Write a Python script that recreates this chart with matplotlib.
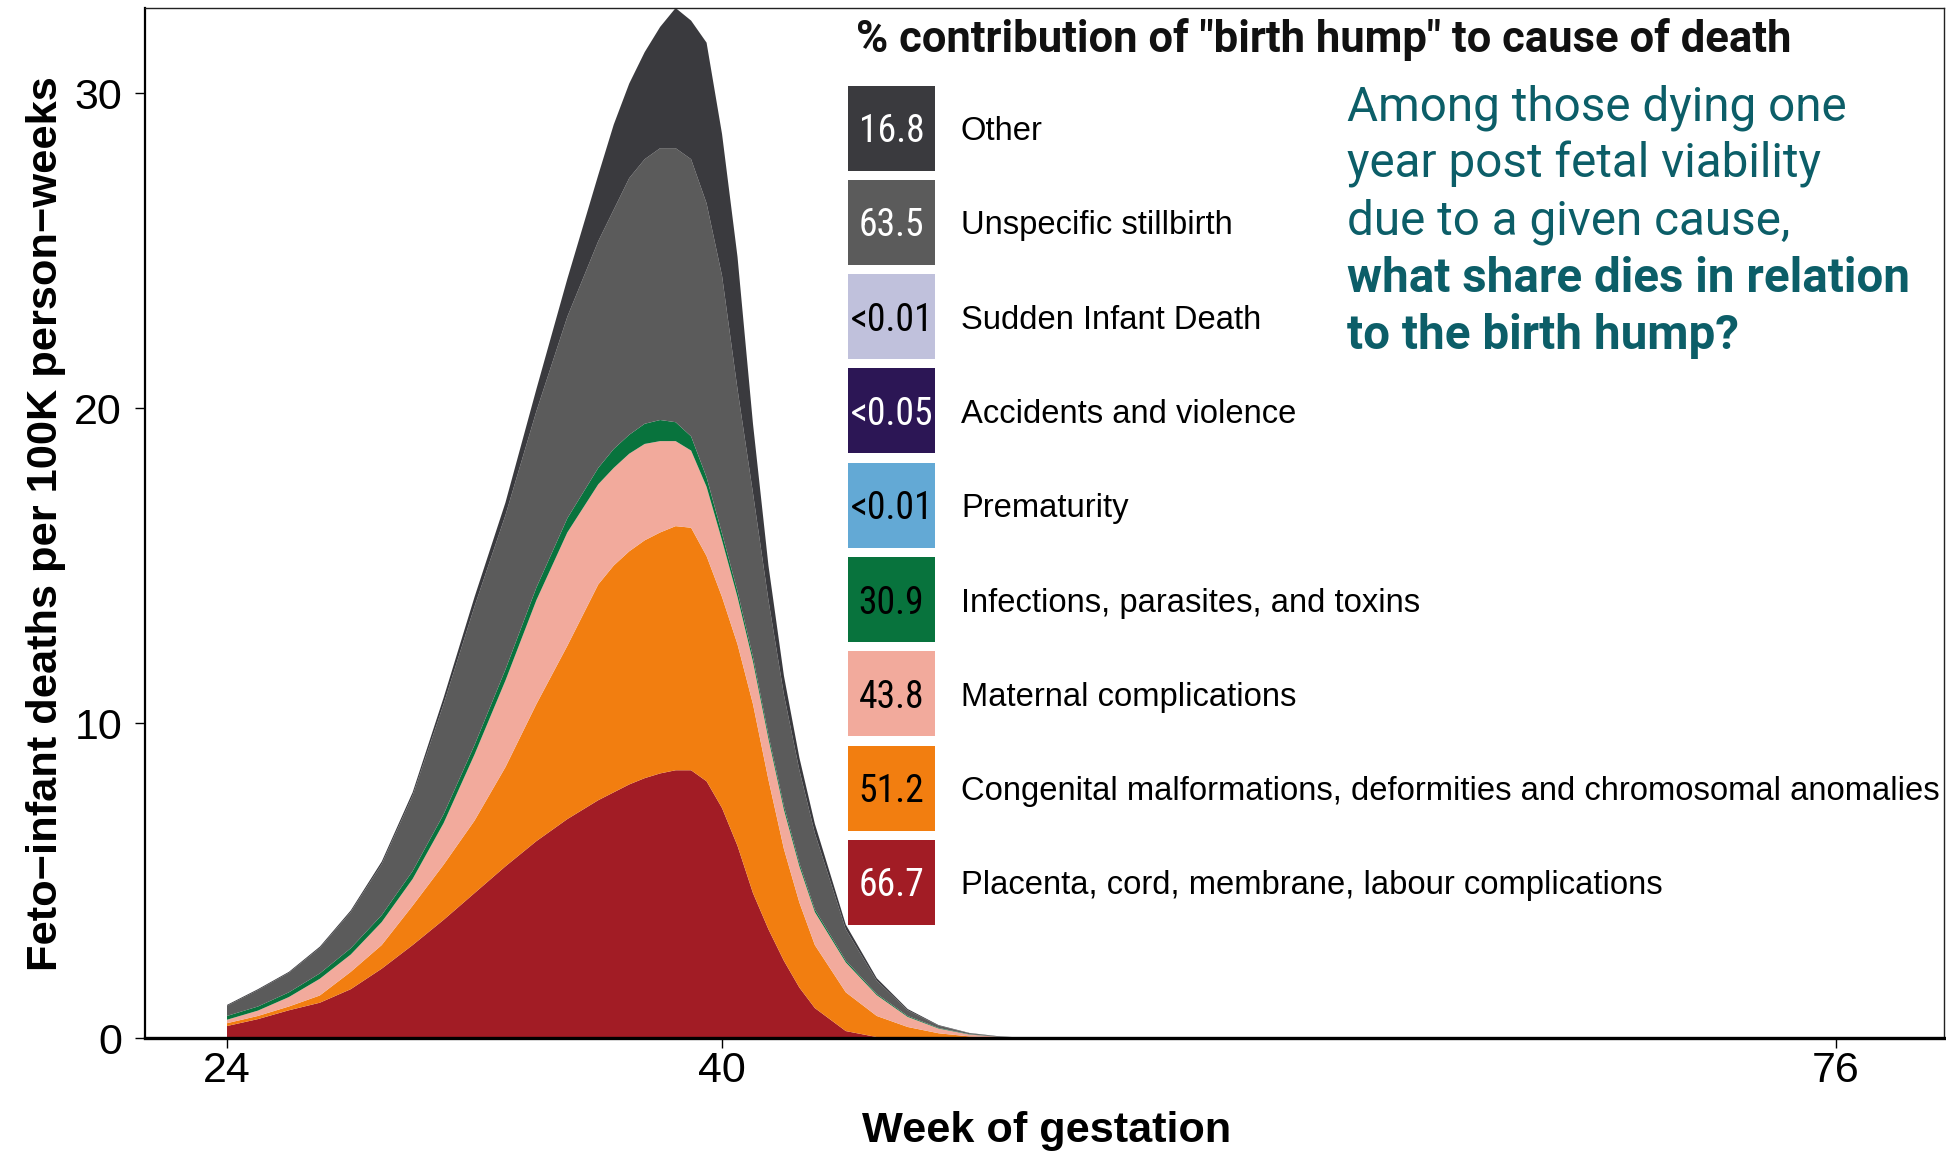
import matplotlib
matplotlib.use("Agg")
import matplotlib.pyplot as plt
from matplotlib.patches import Rectangle
from matplotlib import font_manager

# ---------------- data ----------------
weeks = [24, 25, 26, 27, 28, 29, 30, 31, 32, 33, 34, 35, 36, 36.5, 37, 37.5, 38, 38.5,
         39, 39.5, 40, 40.5, 41, 41.5, 42, 42.5, 43, 44, 45, 46, 47, 48, 49, 50, 76]

placenta = [0.38, 0.60, 0.88, 1.12, 1.55, 2.20, 2.95, 3.75, 4.60, 5.45, 6.25, 6.95, 7.55, 7.80,
            8.05, 8.25, 8.40, 8.50, 8.50, 8.15, 7.30, 6.10, 4.60, 3.45, 2.45, 1.60, 0.95, 0.22,
            0.03, 0, 0, 0, 0, 0, 0]
congenital = [0.09, 0.10, 0.12, 0.23, 0.55, 0.75, 1.25, 1.75, 2.30, 3.15, 4.35, 5.50, 6.85, 7.20,
              7.40, 7.55, 7.65, 7.75, 7.70, 7.15, 6.70, 6.40, 6.00, 4.75, 3.55, 2.70, 2.00, 1.23,
              0.67, 0.35, 0.15, 0.05, 0.01, 0, 0]
maternal = [0.11, 0.17, 0.30, 0.53, 0.55, 0.73, 0.85, 1.32, 2.10, 2.75, 3.30, 3.60, 3.18, 3.10,
            3.10, 3.06, 2.90, 2.70, 2.45, 2.20, 1.80, 1.50, 1.35, 1.30, 1.25, 1.15, 1.05, 0.95,
            0.66, 0.32, 0.15, 0.06, 0.02, 0, 0]
infections = [0.12, 0.13, 0.15, 0.17, 0.20, 0.22, 0.25, 0.28, 0.30, 0.35, 0.40, 0.45, 0.52, 0.60,
              0.60, 0.64, 0.67, 0.60, 0.45, 0.30, 0.22, 0.18, 0.15, 0.13, 0.12, 0.10, 0.08, 0.06,
              0.04, 0.03, 0.02, 0.01, 0, 0, 0]
prematurity = [0] * 35
accidents = [0] * 35
sudden_infant = [0] * 35
unspecific = [0.32, 0.52, 0.62, 0.81, 1.15, 1.62, 2.40, 3.50, 4.40, 4.90, 5.60, 6.40, 7.20, 7.60,
              8.15, 8.40, 8.63, 8.70, 8.80, 8.70, 8.18, 6.42, 5.20, 4.27, 3.53, 2.95, 2.42, 0.99,
              0.42, 0.18, 0.07, 0.03, 0.01, 0, 0]
other = [0.03, 0.03, 0.03, 0.04, 0.05, 0.08, 0.10, 0.20, 0.30, 0.40, 0.70, 1.20, 2.10, 2.70,
         3.00, 3.40, 3.85, 4.45, 4.40, 5.10, 4.50, 4.20, 2.20, 1.10, 0.60, 0.40, 0.30, 0.15,
         0.08, 0.04, 0.02, 0.01, 0.01, 0, 0]

# stacking order: bottom -> top
cause_labels = ["Placenta, cord, membrane, labour complications",
                "Congenital malformations, deformities and chromosomal anomalies",
                "Maternal complications",
                "Infections, parasites, and toxins",
                "Prematurity",
                "Accidents and violence",
                "Sudden Infant Death",
                "Unspecific stillbirth",
                "Other"]
cause_colors = ["#a21c25", "#f27e10", "#f2aa9c", "#08733d", "#63a9d5",
                "#2c1655", "#c0c1dc", "#5b5b5b", "#3a3a3e"]
hump_share = ["66.7", "51.2", "43.8", "30.9", "<0.01", "<0.05", "<0.01", "63.5", "16.8"]
share_text_colors = ["white", "black", "black", "black", "black", "white", "black", "white", "white"]

x_ticks = [24, 40, 76]
y_ticks = [0, 10, 20, 30]

legend_title = '% contribution of "birth hump" to cause of death'
note_lines = ["Among those dying one", "year post fetal viability", "due to a given cause,",
              "what share dies in relation", "to the birth hump?"]
note_bold = [False, False, False, True, True]

# ---------------- fonts ----------------
names = {f.name for f in font_manager.fontManager.ttflist}
SANS = ["Liberation Sans", "DejaVu Sans"]
plt.rcParams["font.family"] = SANS
num_family = "Roboto Condensed" if "Roboto Condensed" in names else "Roboto"

# ---------------- figure ----------------
W, H = 1946, 1151
fig = plt.figure(figsize=(W / 100, H / 100), dpi=100)
ax = fig.add_axes([145 / W, 1 - 1038 / H, (1944 - 145) / W, (1038 - 8) / H])

layers = [placenta, congenital, maternal, infections, prematurity, accidents,
          sudden_infant, unspecific, other]
ax.stackplot(weeks, *layers, colors=cause_colors, linewidth=0)

totals = [sum(v) for v in zip(*layers)]
ax.set_xlim(24 - 82 / 30.94, 24 + (1944 - 227) / 30.94)
ax.set_ylim(0, max(totals))
ax.set_xticks(x_ticks)
ax.set_yticks(y_ticks)
ax.tick_params(axis="both", direction="out", length=7.5, width=1.0, labelsize=31, color="black")
ax.tick_params(axis="x", pad=2)
ax.tick_params(axis="y", pad=9)
ax.spines["left"].set_linewidth(1.6)
ax.spines["bottom"].set_linewidth(2.4)
for s in ["top", "right"]:
    ax.spines[s].set_linewidth(1.0)
    ax.spines[s].set_color("#222222")
for s in ax.spines.values():
    s.set_zorder(5)

xl = fig.text(1047 / W, 1 - 1131 / H, "Week of gestation", ha="center", va="center",
              fontsize=32, fontweight="bold")
yl = fig.text(46 / W, 1 - 524 / H, "Feto\u2212infant deaths per 100K person\u2212weeks",
              ha="center", va="center", rotation=90, fontsize=32, fontweight="bold")

# ---------------- legend & note (overlay in pixel coords) ----------------
ov = fig.add_axes([0, 0, 1, 1])
ov.set_xlim(0, W)
ov.set_ylim(H, 0)
ov.axis("off")
ov.patch.set_alpha(0)

title = ov.text(856, 52, legend_title, ha="left", va="baseline", fontsize=30,
                fontweight="bold", family=["Roboto", "DejaVu Sans"], color="#111111")

box_x, box_w, box_h, top0, pitch = 848, 87, 85, 85.5, 94.3
num_texts, lab_texts = [], []
n = len(cause_labels)
for i in range(n):
    k = n - 1 - i  # top of legend = top of stack
    top = top0 + i * pitch
    ov.add_patch(Rectangle((box_x, top), box_w, box_h, facecolor=cause_colors[k],
                           edgecolor="none"))
    cy = top + box_h / 2
    num_texts.append(ov.text(box_x + box_w / 2, cy + 3.5, hump_share[k], ha="center",
                             va="center", fontsize=25, family=[num_family, "DejaVu Sans"],
                             color=share_text_colors[k]))
    lab_texts.append(ov.text(961, cy + 3.5, cause_labels[k], ha="left", va="center",
                             fontsize=22, color="black"))

note_texts = []
for j, (line, b) in enumerate(zip(note_lines, note_bold)):
    note_texts.append(ov.text(1347, 120 + j * 57.3, line, ha="left", va="baseline",
                              fontsize=33, fontweight="bold" if b else "normal",
                              family=["Roboto", "DejaVu Sans"], color="#0c5e68"))

# ---------------- fit text sizes to reference extents ----------------
fig.canvas.draw()
r = fig.canvas.get_renderer()


def fit(t, target, vertical=False):
    bb = t.get_window_extent(renderer=r)
    cur = bb.height if vertical else bb.width
    t.set_fontsize(t.get_fontsize() * target / cur)
    return t.get_fontsize()


fit(xl, 370)
fit(yl, 895, vertical=True)
fit(title, 935)
widest = max(lab_texts, key=lambda t: len(t.get_text()))
s = fit(widest, 974)
for t in lab_texts:
    t.set_fontsize(s)
s = fit(note_texts[0], 500)
for t in note_texts:
    t.set_fontsize(s)
widest_num = max(num_texts, key=lambda t: t.get_window_extent(renderer=r).width)
s = fit(widest_num, 83)
for t in num_texts:
    t.set_fontsize(s)

fig.savefig("out.png", dpi=100)
